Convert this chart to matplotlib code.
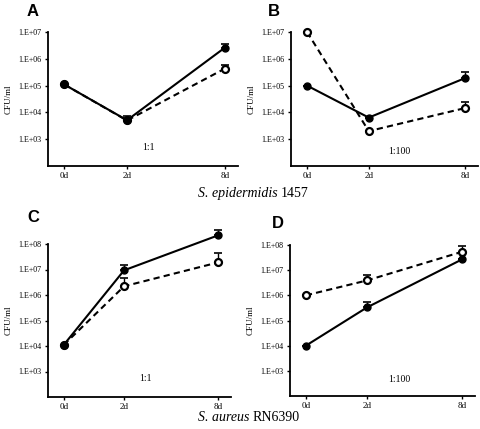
import matplotlib
matplotlib.use("Agg")
import matplotlib.pyplot as plt
import numpy as np

days = ["0d", "2d", "8d"]
x_pos = [0, 1, 2.56]

# Panel A: S. epidermidis 1457, 1:1
a_filled = [1.1e5, 5.1e3, 2.6e6]
a_filled_err = [0, 2.5e3, 1.0e6]
a_open = [1.1e5, 5.0e3, 4.3e5]
a_open_err = [0, 0, 1.7e5]
# Panel B: S. epidermidis 1457, 1:100
b_filled = [1.0e5, 6.4e3, 1.9e5]
b_filled_err = [0, 0, 1.2e5]
b_open = [1.0e7, 2.0e3, 1.45e4]
b_open_err = [0, 0, 1.1e4]
# Panel C: S. aureus RN6390, 1:1
c_filled = [1.1e4, 9.3e6, 2.2e8]
c_filled_err = [0, 6.0e6, 1.5e8]
c_open = [1.1e4, 2.2e6, 1.9e7]
c_open_err = [0, 2.5e6, 2.6e7]
# Panel D: S. aureus RN6390, 1:100
d_filled = [1.0e4, 3.3e5, 2.7e7]
d_filled_err = [0, 2.0e5, 0]
d_open = [1.0e6, 3.9e6, 5.4e7]
d_open_err = [0, 2.4e6, 3.6e7]

ratios = ["1:1", "1:100", "1:1", "1:100"]
letters = ["A", "B", "C", "D"]

W, H = 480, 429
fig = plt.figure(figsize=(4.8, 4.29), dpi=100)

def rect(l, r, t, b):
    return [l / W, 1 - b / H, (r - l) / W, (b - t) / H]

panels = [
    dict(r=rect(48, 238, 32, 166), ylim=(1e2, 1e7), f=a_filled, fe=a_filled_err, o=a_open, oe=a_open_err,
         ticks=[1e3, 1e4, 1e5, 1e6, 1e7], txt=(0.526, 0.14), let=(33, 12)),
    dict(r=rect(291, 478, 32, 166), ylim=(1e2, 1e7), f=b_filled, fe=b_filled_err, o=b_open, oe=b_open_err,
         ticks=[1e3, 1e4, 1e5, 1e6, 1e7], txt=(0.58, 0.11), let=(274, 12)),
    dict(r=rect(48, 231, 244, 397), ylim=(1e2, 1e8), f=c_filled, fe=c_filled_err, o=c_open, oe=c_open_err,
         ticks=[1e3, 1e4, 1e5, 1e6, 1e7, 1e8], txt=(0.53, 0.12), let=(33, 218)),
    dict(r=rect(290, 475, 245, 396), ylim=(1e2, 1e8), f=d_filled, fe=d_filled_err, o=d_open, oe=d_open_err,
         ticks=[1e3, 1e4, 1e5, 1e6, 1e7, 1e8], txt=(0.59, 0.11), let=(278, 224)),
]

serif = "Liberation Serif"

for i, p in enumerate(panels):
    ax = fig.add_axes(p["r"])
    ax.set_yscale("log")
    ax.set_ylim(*p["ylim"])
    ax.set_xlim(-0.26, 2.77)
    o = np.array(p["o"]); oe = np.array(p["oe"])
    f = np.array(p["f"]); fe = np.array(p["fe"])
    ax.errorbar(x_pos, o, yerr=[np.zeros_like(oe), oe], fmt="none", ecolor="black",
                elinewidth=1.0, capsize=3, capthick=1.2, clip_on=False, zorder=2)
    ax.plot(x_pos, o, linestyle=(0, (3, 2)), color="black", lw=1.5, marker="o",
            markersize=5, markerfacecolor="white", markeredgecolor="black",
            markeredgewidth=1.6, clip_on=False, zorder=3)
    ax.errorbar(x_pos, f, yerr=[np.zeros_like(fe), fe], fmt="none", ecolor="black",
                elinewidth=1.0, capsize=3, capthick=1.2, clip_on=False, zorder=4)
    ax.plot(x_pos, f, linestyle="-", color="black", lw=1.5, marker="o",
            markersize=5, markerfacecolor="black", markeredgecolor="black",
            clip_on=False, zorder=5)
    ax.set_yticks(p["ticks"])
    ax.set_yticklabels(["1.E+%02d" % int(round(np.log10(t))) for t in p["ticks"]],
                       fontsize=5.8, family=serif)
    ax.yaxis.set_minor_locator(matplotlib.ticker.NullLocator())
    ax.set_xticks(x_pos)
    ax.set_xticklabels(days, fontsize=6.5, family=serif)
    ax.tick_params(axis="both", direction="out", length=2, width=1, pad=2.5)
    ax.tick_params(axis="x", pad=2)
    for s in ["top", "right"]:
        ax.spines[s].set_visible(False)
    for s in ["left", "bottom"]:
        ax.spines[s].set_linewidth(1.3)
    ax.set_ylabel("CFU/ml", fontsize=6.5, family=serif, labelpad=4)
    ax.text(p["txt"][0], p["txt"][1], ratios[i], transform=ax.transAxes,
            fontsize=7, family=serif, ha="center", va="center")
    fig.text(p["let"][0] / W, 1 - p["let"][1] / H, letters[i], fontsize=12,
             fontweight="bold", family="Liberation Sans", ha="center", va="center")

def species_label(x, y, italic, rest):
    ti = fig.text(x / W, 1 - y / H, italic, fontsize=10, family=serif,
                  style="italic", ha="left", va="baseline")
    fig.canvas.draw()
    bi = ti.get_window_extent()
    fig.text((bi.x1 + 3.5) / W, 1 - y / H, rest, fontsize=10, family=serif,
             ha="left", va="baseline")

species_label(198, 197, "S. epidermidis", "1457")
species_label(198, 421, "S. aureus", "RN6390")

fig.savefig("out.png", dpi=100)
